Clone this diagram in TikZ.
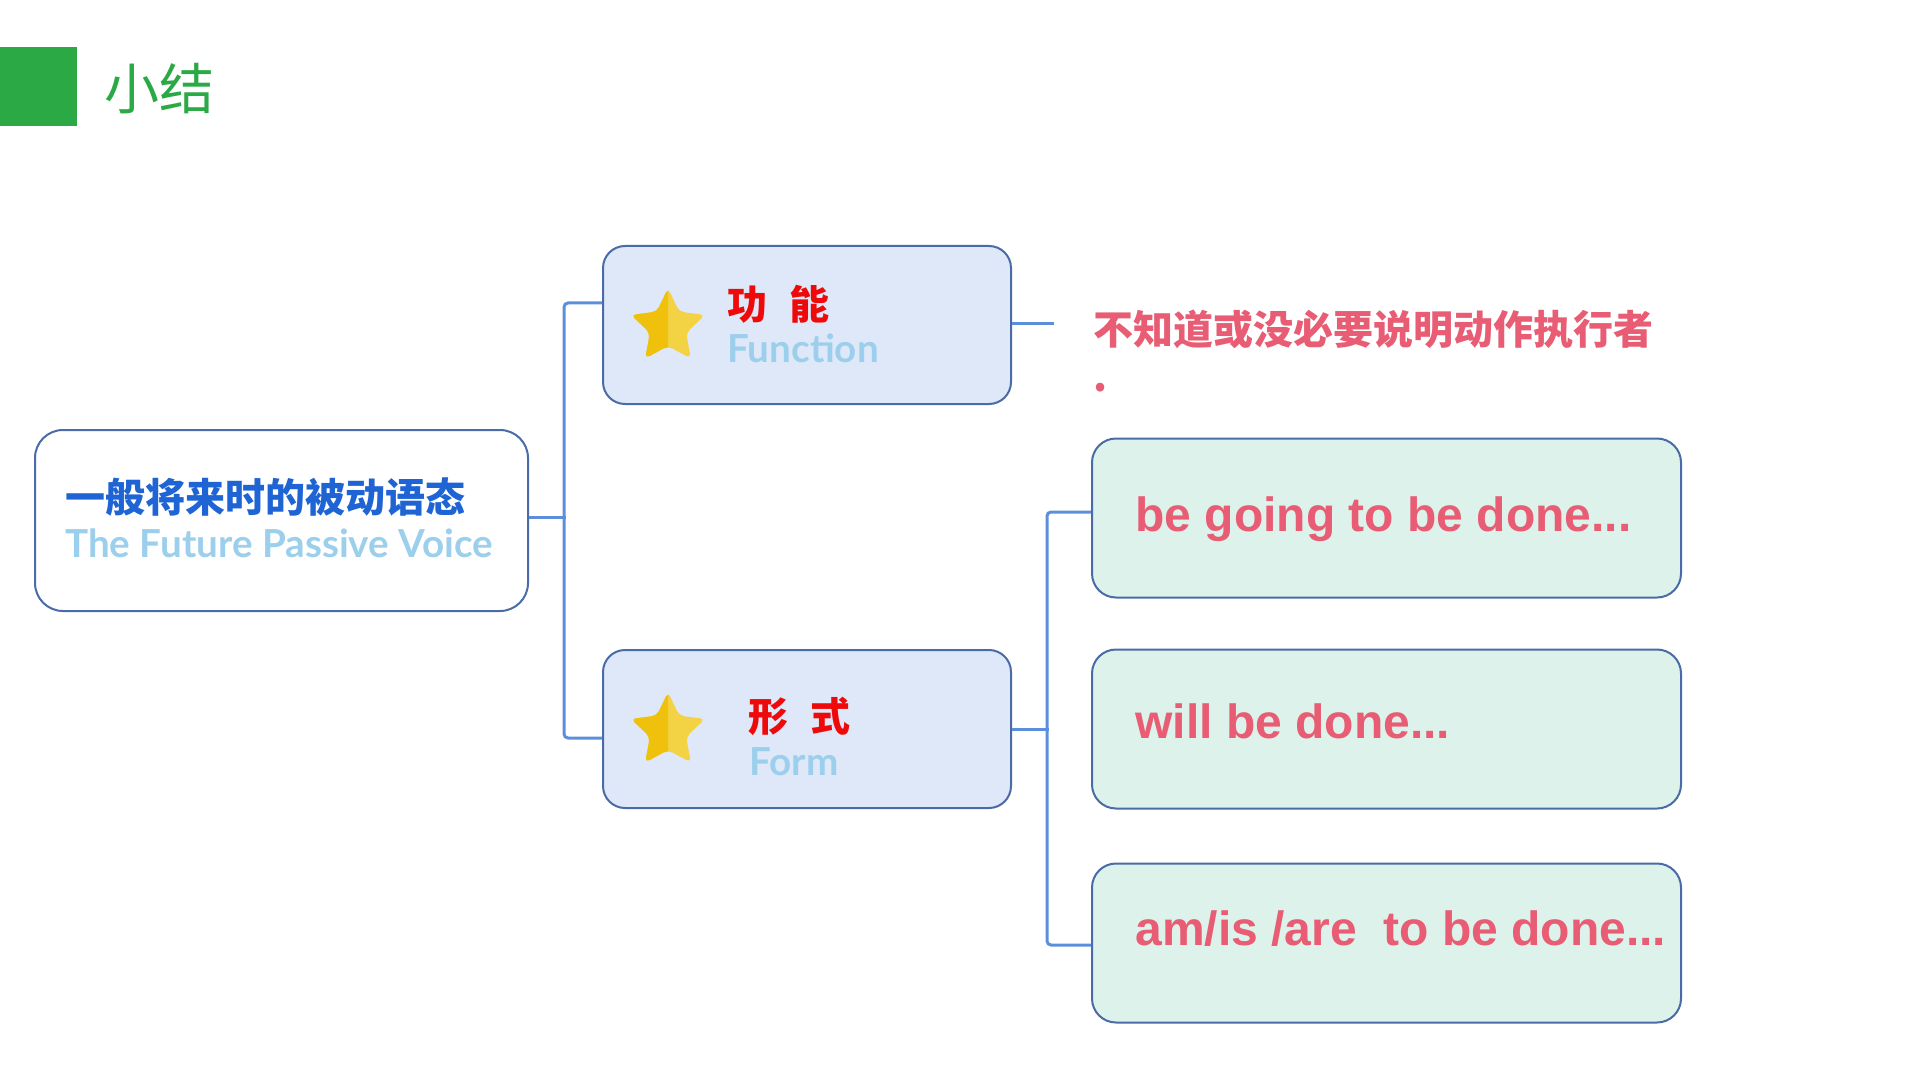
\documentclass[tikz,border=0pt]{standalone}
\usepackage{fontspec}
\newfontfamily\cjk{Noto Sans CJK SC}
\newfontfamily\lib{Liberation Sans}
\newfontfamily\geo{Lato}
\definecolor{titlegreen}{HTML}{2BA944}
\definecolor{boxline}{HTML}{4A6BA6}
\definecolor{connc}{HTML}{5B8FDC}
\definecolor{catfill}{HTML}{DEE8F8}
\definecolor{formfill}{HTML}{DCF2EA}
\definecolor{pinktext}{HTML}{E85C74}
\definecolor{redtext}{HTML}{EE0A0A}
\definecolor{rootblue}{HTML}{1F64D4}
\definecolor{lightblue}{HTML}{9CCFEC}
\definecolor{stardark}{HTML}{EFC10C}
\definecolor{starlight}{HTML}{F3D244}
\tikzset{
  box/.style={draw=boxline, line width=1pt, inner sep=0pt},
  rootbox/.style={box, fill=white, rounded corners=14pt, minimum width=246.5pt, minimum height=90.5pt},
  catbox/.style={box, fill=catfill, rounded corners=11pt, minimum width=204pt, minimum height=79pt},
  formbox/.style={box, fill=formfill, rounded corners=12pt, minimum width=294.5pt, minimum height=79.5pt},
  conn/.style={draw=connc, line width=1.5pt, rounded corners=2pt},
  lbl/.style={anchor=base west, inner sep=0pt},
  zhbig/.style={lbl, font=\cjk\bfseries\fontsize{20pt}{23.5pt}\selectfont},
  enlight/.style={lbl, text=lightblue, font=\geo\bfseries\fontsize{19.3pt}{23pt}\selectfont},
  gtext/.style={lbl, text=pinktext, font=\lib\bfseries\fontsize{24pt}{28pt}\selectfont},
  mystar/.pic={
    \fill[starlight, rounded corners=2.5pt] (270:39) -- (306:19) -- (342:39) -- (18:19) -- (54:39) -- (90:19) -- (126:39) -- (162:19) -- (198:39) -- (234:19) -- cycle;
    \begin{scope}
      \clip (-45,-45) rectangle (0,45);
      \fill[stardark, rounded corners=2.5pt] (270:39) -- (306:19) -- (342:39) -- (18:19) -- (54:39) -- (90:19) -- (126:39) -- (162:19) -- (198:39) -- (234:19) -- cycle;
    \end{scope}
  }
}
\begin{document}
\begin{tikzpicture}[x=0.5pt,y=-0.5pt]
\useasboundingbox (0,0) rectangle (1920,1080);
\fill[white] (0,0) rectangle (1920,1080);
% title
\fill[titlegreen] (0,47) rectangle (77,126);
\node[lbl, text=titlegreen, font=\cjk\fontsize{27.5pt}{32pt}\selectfont] (title) at (104,110) {小结};
% boxes
\node[rootbox] (root) at (281.5,520.5) {};
\node[catbox] (func) at (807,325) {};
\node[catbox] (form) at (807,729) {};
\node[formbox] (g1) at (1386.5,518) {};
\node[formbox] (g2) at (1386.5,729) {};
\node[formbox] (g3) at (1386.5,943) {};
% root texts
\node[zhbig, text=rootblue] (rootzh) at (65,512) {一般将来时的被动语态};
\node[enlight] (rooten) at (65,557) {The Future Passive Voice};
% category boxes
\pic at (668,327) {mystar};
\pic at (668,731) {mystar};
\node[zhbig, text=redtext] (funczh) at (727,320) {功\hspace{0.55em}能};
\node[enlight] (funcen) at (727,363) {Function};
\node[zhbig, text=redtext] (formzh) at (748,731) {形\hspace{0.55em}式};
\node[enlight] (formen) at (749,775) {Form};
% note (anchor at the baseline of its last line)
\node[zhbig, text=pinktext, align=left] (note) at (1093,391) {不知道或没必要说明动作执行者\\.};
% form texts
\node[gtext] (t1) at (1135,531) {be going to be done...};
\node[gtext] (t2) at (1135,738) {will be done...};
\node[gtext] (t3) at (1135,945) {am/is /are\ \ to be done...};
% connectors
\draw[conn] ([yshift=1.75pt]root.east) -- ++(37,0);
\draw[conn] ([yshift=11pt]func.west) -- ++(-38,0) |- ([yshift=-4.5pt]form.west);
\draw[conn] ([yshift=0.5pt]func.east) -- ++(42,0) coordinate (fend);
\draw[conn] (form.east) -- ++(37,0);
\draw[conn] ([yshift=3pt]g1.west) -- ++(-44,0) |- ([yshift=-1pt]g3.west);
\end{tikzpicture}
\end{document}
